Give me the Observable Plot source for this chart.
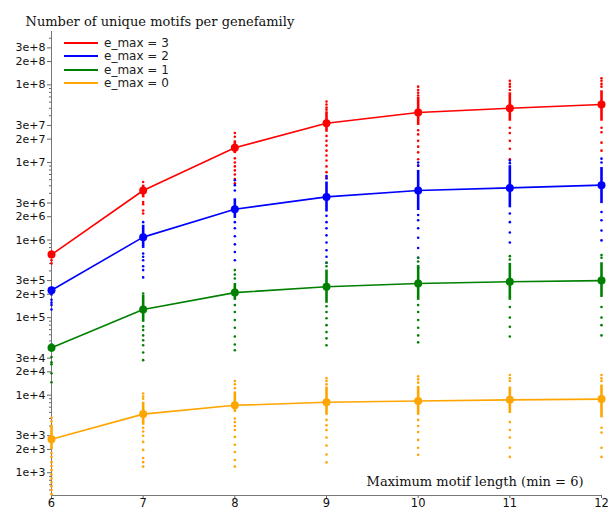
<!DOCTYPE html>
<html>
<head>
<meta charset="utf-8">
<script src="https://cdn.jsdelivr.net/npm/d3@7"></script>
<script src="https://cdn.jsdelivr.net/npm/@observablehq/plot@0.6"></script>
<style>
  html, body { margin: 0; padding: 0; background: #fff; }
  #wrap { position: relative; width: 614px; height: 511px; }
  #legend { position: absolute; left: 64px; top: 36px; font-family: "DejaVu Sans", sans-serif; font-size: 12px; color: #222; }
  #legend .row { display: flex; align-items: center; height: 13.5px; }
  #legend .sw { width: 34px; height: 2px; margin-right: 6px; }
</style>
</head>
<body>
<div id="wrap"><div id="legend"></div></div>
<script>
// ---- data ----
const lengths = [6, 7, 8, 9, 10, 11, 12];
const seriesNames = ["e_max = 3", "e_max = 2", "e_max = 1", "e_max = 0"];
const seriesColors = ["#ff0000", "#0000ff", "#008000", "#ffa500"];
const title = "Number of unique motifs per genefamily";
const xTitle = "Maximum motif length (min = 6)";

// e_max = 3
const mean3 = [6.5e5, 4.35e6, 1.55e7, 3.2e7, 4.4e7, 5.0e7, 5.6e7];
const lo3 = [5.9e5, 3.5e6, 1.3e7, 2.45e7, 3.0e7, 3.4e7, 3.4e7];
const hi3 = [7.2e5, 5.1e6, 1.9e7, 4.5e7, 6.9e7, 7.9e7, 8.4e7];
const dots3 = [
  [5.5e5, 5.0e5],
  [5.6e6, 3.1e6, 2.9e6, 2.4e6, 2.2e6],
  [2.4e7, 2.15e7, 1.13e7, 1.0e7, 8.9e6, 7.9e6, 7.0e6, 6.1e6, 5.4e6],
  [6.1e7, 5.6e7, 5.1e7, 4.8e7, 2.2e7, 1.9e7, 1.65e7, 1.42e7, 1.23e7, 1.06e7, 8.9e6, 7.5e6, 6.4e6],
  [9.5e7, 8.6e7, 7.9e7, 7.3e7, 2.6e7, 2.3e7, 1.9e7, 1.6e7, 1.35e7, 1.1e7, 9.1e6],
  [1.13e8, 1.03e8, 9.5e7, 8.6e7, 2.8e7, 2.4e7, 1.9e7, 1.5e7, 1.1e7],
  [1.22e8, 1.13e8, 1.03e8, 9.5e7, 2.8e7, 2.45e7, 1.8e7, 1.42e7]
];
// e_max = 2
const mean2 = [2.25e5, 1.09e6, 2.5e6, 3.6e6, 4.35e6, 4.7e6, 5.1e6];
const lo2 = [1.9e5, 7.8e5, 1.9e6, 2.3e6, 2.4e6, 2.6e6, 2.95e6];
const hi2 = [2.4e5, 1.55e6, 3.4e6, 5.6e6, 7.9e6, 9.1e6, 8.6e6];
const dots2 = [
  [1.7e5, 1.56e5, 1.45e5, 1.27e5],
  [1.7e6, 6.7e5, 6.1e5, 5.5e5, 4.6e5, 4.1e5, 3.3e5],
  [5.9e6, 5.1e6, 4.35e6, 1.7e6, 1.42e6, 1.12e6, 8.8e5, 7.0e5, 5.5e5],
  [6.7e6, 6.2e6, 2.05e6, 1.7e6, 1.42e6, 1.15e6, 9.3e5, 7.4e5, 6.1e5, 5.1e5],
  [1.0e7, 9.1e6, 2.1e6, 1.8e6, 1.42e6, 1.07e6, 7.9e5, 5.9e5, 4.4e5],
  [1.06e7, 9.8e6, 2.2e6, 1.7e6, 1.25e6, 9.3e5],
  [1.12e7, 1.0e7, 2.3e6, 1.8e6, 1.33e6, 9.9e5]
];
// e_max = 1
const mean1 = [4.1e4, 1.27e5, 2.1e5, 2.5e5, 2.75e5, 2.9e5, 3.0e5];
const lo1 = [3.6e4, 8.7e4, 1.67e5, 1.53e5, 1.67e5, 1.67e5, 1.82e5];
const hi1 = [4.6e4, 1.94e5, 2.75e5, 4.1e5, 4.7e5, 5.0e5, 5.1e5];
const dots1 = [
  [3.1e4, 2.65e4, 2.5e4, 1.92e4, 1.47e4],
  [2.05e5, 7.7e4, 6.9e4, 5.9e4, 5.1e4, 4.4e4, 3.55e4, 2.83e4],
  [4.1e5, 3.6e5, 3.2e5, 1.45e5, 1.18e5, 9.3e4, 7.4e4, 5.7e4, 4.5e4, 3.8e4],
  [5.1e5, 4.6e5, 1.4e5, 1.18e5, 9.8e4, 8.0e4, 6.5e4, 5.4e4, 4.4e4],
  [5.9e5, 5.3e5, 1.45e5, 1.18e5, 9.3e4, 7.4e4, 5.9e4, 4.8e4],
  [6.2e5, 5.6e5, 1.37e5, 1.0e5, 7.6e4, 5.7e4],
  [6.4e5, 5.9e5, 1.37e5, 1.0e5, 8.0e4, 5.9e4]
];
// e_max = 0
const mean0 = [2.7e3, 5.7e3, 7.4e3, 8.1e3, 8.4e3, 8.7e3, 8.9e3];
const lo0 = [1.97e3, 4.1e3, 6.0e3, 5.5e3, 5.5e3, 5.8e3, 5.1e3];
const hi0 = [4.1e3, 8.1e3, 1.1e4, 1.27e4, 1.3e4, 1.27e4, 1.35e4];
const dots0 = [
  [5.1e3, 4.6e3, 1.8e3, 1.6e3, 1.37e3, 1.22e3, 1.08e3, 9.5e2, 8.4e2, 7.5e2, 6.7e2, 6.0e2, 5.3e2],
  [1.05e4, 9.6e3, 9.0e3, 3.8e3, 3.4e3, 3.0e3, 2.5e3, 1.97e3, 1.55e3, 1.37e3, 1.2e3],
  [1.52e4, 1.38e4, 1.23e4, 5.0e3, 4.5e3, 4.0e3, 3.55e3, 2.9e3, 2.3e3, 1.85e3, 1.46e3, 1.2e3],
  [1.65e4, 1.52e4, 1.38e4, 4.8e3, 4.1e3, 3.55e3, 2.85e3, 2.25e3, 1.72e3, 1.36e3],
  [1.75e4, 1.6e4, 1.45e4, 4.8e3, 4.0e3, 3.35e3, 2.65e3, 2.1e3, 1.7e3],
  [1.82e4, 1.65e4, 1.52e4, 4.5e3, 3.55e3, 2.85e3, 2.1e3, 1.6e3],
  [1.82e4, 1.65e4, 1.52e4, 3.8e3, 3.3e3, 2.1e3, 1.6e3]
];

const yMajorTicks = [1e3, 2e3, 3e3, 1e4, 2e4, 3e4, 1e5, 2e5, 3e5, 1e6, 2e6, 3e6, 1e7, 2e7, 3e7, 1e8, 2e8, 3e8];
const yDomain = [509, 4.88e8];

// ---- build tables ----
const means = [mean3, mean2, mean1, mean0];
const los = [lo3, lo2, lo1, lo0];
const his = [hi3, hi2, hi1, hi0];
const dotsAll = [dots3, dots2, dots1, dots0];

const meanRows = [], barRows = [], dotRows = [];
seriesNames.forEach((s, si) => {
  lengths.forEach((L, i) => {
    meanRows.push({series: s, length: L, value: means[si][i]});
    barRows.push({series: s, length: L, lo: los[si][i], hi: his[si][i]});
    dotsAll[si][i].forEach(v => dotRows.push({series: s, length: L, value: v}));
  });
});

const yMinorTicks = [];
for (let e = 2; e <= 8; e++) {
  for (let m = 1; m <= 9; m++) {
    const v = m * Math.pow(10, e);
    if (v >= yDomain[0] && v <= yDomain[1] && !yMajorTicks.includes(v)) yMinorTicks.push(v);
  }
}
const fmt = d => {
  const e = Math.floor(Math.log10(d) + 1e-9);
  const m = Math.round(d / Math.pow(10, e));
  return `${m}e+${e}`;
};

const colorScale = {domain: seriesNames, range: seriesColors};

const chart = Plot.plot({
  width: 614,
  height: 511,
  marginLeft: 51,
  marginRight: 13,
  marginTop: 31,
  marginBottom: 16,
  style: {fontFamily: "'DejaVu Sans', sans-serif", fontSize: "11px", background: "#fff", color: "#111", overflow: "visible"},
  x: {domain: [6, 12]},
  y: {type: "log", domain: yDomain},
  color: colorScale,
  marks: [
    Plot.axisY(yMinorTicks, {tickSize: 2, text: null, stroke: "#666", label: null}),
    Plot.axisY(yMajorTicks, {tickSize: 4, text: null, stroke: "#666", label: null}),
    Plot.text(yMajorTicks, {y: d => d, text: fmt, frameAnchor: "left", dx: -6, textAnchor: "end", fill: "#111", fontSize: 11}),
    Plot.axisX(lengths, {tickSize: 3, tickPadding: 0, tickFormat: d => String(d), stroke: "#666", fill: "#111", fontSize: 11.5, label: null}),
    Plot.ruleX([6], {stroke: "#777", strokeWidth: 1}),
    Plot.ruleY([yDomain[0]], {stroke: "#777", strokeWidth: 1}),
    Plot.dot(dotRows, {x: "length", y: "value", fill: "series", r: 1.3, stroke: "none"}),
    Plot.ruleX(barRows, {x: "length", y1: "lo", y2: "hi", stroke: "series", strokeWidth: 2.6}),
    Plot.line(meanRows, {x: "length", y: "value", z: "series", stroke: "series", strokeWidth: 1.6}),
    Plot.dot(meanRows, {x: "length", y: "value", fill: "series", r: 4, stroke: "none"}),
    Plot.text([title], {frameAnchor: "top-left", dx: -26, dy: -15, textAnchor: "start", fontFamily: "'DejaVu Serif', serif", fontSize: 13, fill: "#111"}),
    Plot.text([xTitle], {frameAnchor: "bottom-right", dx: -18, dy: -10, textAnchor: "end", fontFamily: "'DejaVu Serif', serif", fontSize: 13, fill: "#111"})
  ]
});
document.getElementById("wrap").insertBefore(chart, document.getElementById("legend"));

const legend = document.getElementById("legend");
seriesNames.forEach((s, i) => {
  const row = document.createElement("div");
  row.className = "row";
  const sw = document.createElement("div");
  sw.className = "sw";
  sw.style.background = seriesColors[i];
  const lab = document.createElement("span");
  lab.textContent = s;
  row.appendChild(sw);
  row.appendChild(lab);
  legend.appendChild(row);
});
</script>
</body>
</html>
